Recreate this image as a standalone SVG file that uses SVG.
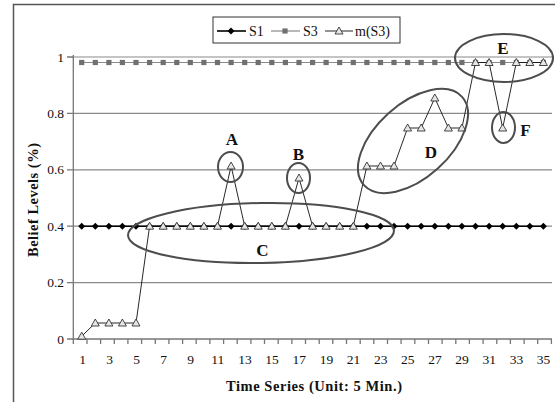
<svg xmlns="http://www.w3.org/2000/svg" xmlns:xlink="http://www.w3.org/1999/xlink" width="555" height="402" viewBox="0 0 555 402" font-family="'Liberation Serif', 'Times New Roman', serif">
<style>
text{font-family:"Liberation Serif","Times New Roman",serif;fill:#111}
.tick{font-size:13.5px;font-family:"Liberation Serif",serif}
.ylab{text-anchor:end}
.xlab{text-anchor:middle}
.title{font-size:14.5px;font-weight:bold}
.letter{font-size:17px;font-weight:bold;text-anchor:middle}
.leg{font-size:14px;font-family:"Liberation Serif",serif}
.grid{stroke:#8a8a8a;stroke-width:1.2;fill:none}
.axis{stroke:#777;stroke-width:1.3;fill:none}
.ell{fill:none;stroke:#4d4d4d;stroke-width:2}
.s1line{stroke:#000;stroke-width:1.6;fill:none}
.s3line{stroke:#8a8a8a;stroke-width:1.2;fill:none}
.mline{stroke:#111;stroke-width:0.9;fill:none}
</style>
<defs>
<path id="dia" d="M0,-3.5 L3.5,0 L0,3.5 L-3.5,0 Z" fill="#000"/>
<rect id="sq" x="-2.6" y="-2.6" width="5.2" height="5.2" fill="#707070"/>
<path id="tri" d="M0,-4 L4,3 L-4,3 Z" fill="#e6e6e6" stroke="#333" stroke-width="0.9"/>
</defs>
<rect width="555" height="402" fill="#fff"/>
<g id="frame"><path d="M13.5,402 V4.5 H555" fill="none" stroke="#555" stroke-width="1.5"/></g>

<g id="grid">
<path class="grid" d="M73.3,57 H552 M73.3,113.4 H552 M73.3,169.8 H552 M73.3,226.2 H552 M73.3,282.6 H552"/>
</g>
<g id="axes">
<path class="axis" d="M73.3,55 V339 H552"/>
<path class="axis" d="M67,57 H73.3 M67,113.4 H73.3 M67,169.8 H73.3 M67,226.2 H73.3 M67,282.6 H73.3 M67,339 H73.3"/>
<path class="axis" d="M73.3,339v5 M87,339v5 M100.6,339v5 M114.3,339v5 M127.9,339v5 M141.6,339v5 M155.3,339v5 M168.9,339v5 M182.6,339v5 M196.2,339v5 M209.9,339v5 M223.6,339v5 M237.2,339v5 M250.9,339v5 M264.5,339v5 M278.2,339v5 M291.9,339v5 M305.5,339v5 M319.2,339v5 M332.8,339v5 M346.5,339v5 M360.2,339v5 M373.8,339v5 M387.5,339v5 M401.1,339v5 M414.8,339v5 M428.5,339v5 M442.1,339v5 M455.8,339v5 M469.4,339v5 M483.1,339v5 M496.8,339v5 M510.4,339v5 M524.1,339v5 M537.7,339v5 M551.4,339v5"/>
<g class="tick ylab">
<text x="64" y="61.5">1</text>
<text x="64" y="118">0.8</text>
<text x="64" y="174.3">0.6</text>
<text x="64" y="230.7">0.4</text>
<text x="64" y="287.1">0.2</text>
<text x="64" y="343.5">0</text>
</g>
<g class="tick xlab">
<text x="82.5" y="364">1</text>
<text x="109.5" y="364">3</text>
<text x="136.5" y="364">5</text>
<text x="163.6" y="364">7</text>
<text x="190.7" y="364">9</text>
<text x="217.8" y="364">11</text>
<text x="245" y="364">13</text>
<text x="272.1" y="364">15</text>
<text x="299.2" y="364">17</text>
<text x="326.4" y="364">19</text>
<text x="353.5" y="364">21</text>
<text x="380.7" y="364">23</text>
<text x="407.8" y="364">25</text>
<text x="435" y="364">27</text>
<text x="462.1" y="364">29</text>
<text x="489.3" y="364">31</text>
<text x="516.4" y="364">33</text>
<text x="543.6" y="364">35</text>
</g>
<text class="title" x="226" y="391" textLength="176" lengthAdjust="spacing">Time Series (Unit: 5 Min.)</text>
<text class="title" transform="translate(38,257) rotate(-90)" textLength="114" lengthAdjust="spacing">Belief Levels (%)</text>
</g>

<g id="connectors">
<path id="s3-line" class="s3line" d="M81.7,62.5 H543.4"/>
<path id="s1-line" class="s1line" d="M81.7,226.2 H543.4"/>
<path id="m-line" class="mline" d="M81.7,336.2 L95.3,323 L108.9,323 L122.4,323 L136,323 L149.6,226.2 L163.2,226.2 L176.8,226.2 L190.3,226.2 L203.9,226.2 L217.5,226.2 L231.1,166 L244.7,226.2 L258.2,226.2 L271.8,226.2 L285.4,226.2 L299,178 L312.6,226.2 L326.1,226.2 L339.7,226.2 L353.3,226.2 L366.9,166 L380.5,166 L394,166 L407.6,128 L421.2,128 L434.8,98 L448.4,128 L461.9,128 L475.5,62.5 L489.1,62.5 L502.7,128 L516.3,62.5 L529.8,62.5 L543.4,62.5"/>
</g>

<g id="series-s3">
<use href="#sq" x="81.7" y="62.5"/><use href="#sq" x="95.3" y="62.5"/><use href="#sq" x="108.9" y="62.5"/><use href="#sq" x="122.4" y="62.5"/><use href="#sq" x="136" y="62.5"/><use href="#sq" x="149.6" y="62.5"/><use href="#sq" x="163.2" y="62.5"/><use href="#sq" x="176.8" y="62.5"/><use href="#sq" x="190.3" y="62.5"/><use href="#sq" x="203.9" y="62.5"/><use href="#sq" x="217.5" y="62.5"/><use href="#sq" x="231.1" y="62.5"/><use href="#sq" x="244.7" y="62.5"/><use href="#sq" x="258.2" y="62.5"/><use href="#sq" x="271.8" y="62.5"/><use href="#sq" x="285.4" y="62.5"/><use href="#sq" x="299" y="62.5"/><use href="#sq" x="312.6" y="62.5"/><use href="#sq" x="326.1" y="62.5"/><use href="#sq" x="339.7" y="62.5"/><use href="#sq" x="353.3" y="62.5"/><use href="#sq" x="366.9" y="62.5"/><use href="#sq" x="380.5" y="62.5"/><use href="#sq" x="394" y="62.5"/><use href="#sq" x="407.6" y="62.5"/><use href="#sq" x="421.2" y="62.5"/><use href="#sq" x="434.8" y="62.5"/><use href="#sq" x="448.4" y="62.5"/><use href="#sq" x="461.9" y="62.5"/><use href="#sq" x="475.5" y="62.5"/><use href="#sq" x="489.1" y="62.5"/><use href="#sq" x="502.7" y="62.5"/><use href="#sq" x="516.3" y="62.5"/><use href="#sq" x="529.8" y="62.5"/><use href="#sq" x="543.4" y="62.5"/>
</g>
<g id="series-s1">
<use href="#dia" x="81.7" y="226.2"/><use href="#dia" x="95.3" y="226.2"/><use href="#dia" x="108.9" y="226.2"/><use href="#dia" x="122.4" y="226.2"/><use href="#dia" x="136" y="226.2"/><use href="#dia" x="149.6" y="226.2"/><use href="#dia" x="163.2" y="226.2"/><use href="#dia" x="176.8" y="226.2"/><use href="#dia" x="190.3" y="226.2"/><use href="#dia" x="203.9" y="226.2"/><use href="#dia" x="217.5" y="226.2"/><use href="#dia" x="231.1" y="226.2"/><use href="#dia" x="244.7" y="226.2"/><use href="#dia" x="258.2" y="226.2"/><use href="#dia" x="271.8" y="226.2"/><use href="#dia" x="285.4" y="226.2"/><use href="#dia" x="299" y="226.2"/><use href="#dia" x="312.6" y="226.2"/><use href="#dia" x="326.1" y="226.2"/><use href="#dia" x="339.7" y="226.2"/><use href="#dia" x="353.3" y="226.2"/><use href="#dia" x="366.9" y="226.2"/><use href="#dia" x="380.5" y="226.2"/><use href="#dia" x="394" y="226.2"/><use href="#dia" x="407.6" y="226.2"/><use href="#dia" x="421.2" y="226.2"/><use href="#dia" x="434.8" y="226.2"/><use href="#dia" x="448.4" y="226.2"/><use href="#dia" x="461.9" y="226.2"/><use href="#dia" x="475.5" y="226.2"/><use href="#dia" x="489.1" y="226.2"/><use href="#dia" x="502.7" y="226.2"/><use href="#dia" x="516.3" y="226.2"/><use href="#dia" x="529.8" y="226.2"/><use href="#dia" x="543.4" y="226.2"/>
</g>
<g id="series-m">
<use href="#tri" x="81.7" y="336.2"/><use href="#tri" x="95.3" y="323"/><use href="#tri" x="108.9" y="323"/><use href="#tri" x="122.4" y="323"/><use href="#tri" x="136" y="323"/><use href="#tri" x="149.6" y="226.2"/><use href="#tri" x="163.2" y="226.2"/><use href="#tri" x="176.8" y="226.2"/><use href="#tri" x="190.3" y="226.2"/><use href="#tri" x="203.9" y="226.2"/><use href="#tri" x="217.5" y="226.2"/><use href="#tri" x="231.1" y="166"/><use href="#tri" x="244.7" y="226.2"/><use href="#tri" x="258.2" y="226.2"/><use href="#tri" x="271.8" y="226.2"/><use href="#tri" x="285.4" y="226.2"/><use href="#tri" x="299" y="178"/><use href="#tri" x="312.6" y="226.2"/><use href="#tri" x="326.1" y="226.2"/><use href="#tri" x="339.7" y="226.2"/><use href="#tri" x="353.3" y="226.2"/><use href="#tri" x="366.9" y="166"/><use href="#tri" x="380.5" y="166"/><use href="#tri" x="394" y="166"/><use href="#tri" x="407.6" y="128"/><use href="#tri" x="421.2" y="128"/><use href="#tri" x="434.8" y="98"/><use href="#tri" x="448.4" y="128"/><use href="#tri" x="461.9" y="128"/><use href="#tri" x="475.5" y="62.5"/><use href="#tri" x="489.1" y="62.5"/><use href="#tri" x="502.7" y="128"/><use href="#tri" x="516.3" y="62.5"/><use href="#tri" x="529.8" y="62.5"/><use href="#tri" x="543.4" y="62.5"/>
</g>

<g id="note-A"><ellipse class="ell" cx="230.5" cy="167" rx="12.5" ry="15"/><text class="letter" x="232" y="144.5">A</text></g>
<g id="note-B"><ellipse class="ell" cx="298.5" cy="178" rx="11.5" ry="15"/><text class="letter" x="298.5" y="159.5">B</text></g>
<g id="note-C"><ellipse class="ell" cx="261" cy="233" rx="133" ry="30" transform="rotate(-1 261 233)"/><text class="letter" x="262.5" y="255.5">C</text></g>
<g id="note-D"><ellipse class="ell" cx="413" cy="141" rx="66" ry="37" transform="rotate(-42 413 141)"/><text class="letter" x="431" y="157.5">D</text></g>
<g id="note-E"><ellipse class="ell" cx="504" cy="58" rx="49" ry="24"/><text class="letter" x="503" y="53.5">E</text></g>
<g id="note-F"><ellipse class="ell" cx="503.5" cy="127.5" rx="11.5" ry="15.5"/><text class="letter" x="525.5" y="135.5">F</text></g>

<g id="legend">
<rect x="213" y="17" width="187" height="26" fill="#fff" stroke="#333" stroke-width="1"/>
<path class="s1line" d="M217,31 H246"/><use href="#dia" x="231" y="31"/>
<text class="leg" x="249" y="35.5">S1</text>
<path class="s3line" d="M271,31 H300"/><use href="#sq" x="285" y="31"/>
<text class="leg" x="303" y="35.5">S3</text>
<path class="mline" d="M325,31 H353"/><use href="#tri" x="339" y="31"/>
<text class="leg" x="355" y="35.5">m(S3)</text>
</g>
</svg>
